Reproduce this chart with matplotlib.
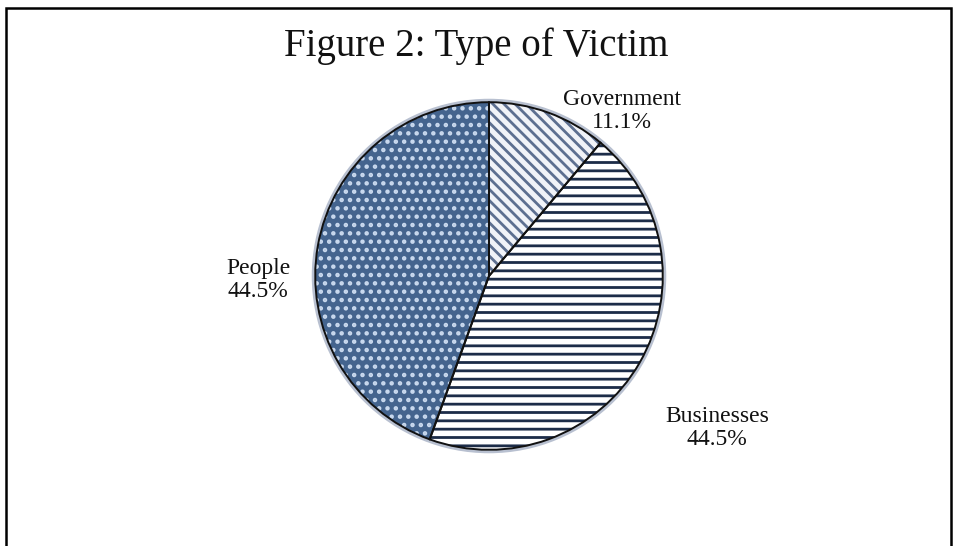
import matplotlib.pyplot as plt
from matplotlib.patches import Rectangle, Circle

categories = ["Government", "Businesses", "People"]
shares = [11.1, 44.5, 44.5]
pct_labels = ["11.1%", "44.5%", "44.5%"]

face_colors = ["#f1f3f8", "#ffffff", "#44648e"]
hatch_colors = ["#5d6f90", "#1c2c48", "#c9d9ee"]
hatches = ["\\\\\\", "--", ".."]

plt.rcParams['font.family'] = ['Liberation Serif', 'DejaVu Serif']
plt.rcParams['hatch.linewidth'] = 2.0

fig = plt.figure(figsize=(9.54, 5.46), dpi=100)

# outer frame, bottom runs off the picture
fig.patches.append(Rectangle((6 / 954, -0.05), 945 / 954, 1.05 - 8 / 546,
                             transform=fig.transFigure, fill=False,
                             edgecolor="black", linewidth=1.8))

ax = fig.add_axes([310 / 954, 91 / 546, 358 / 954, 358 / 546])

# soft halo round the pie
ax.add_patch(Circle((0, 0), 1.0, fill=False, edgecolor="#b8c0d0",
                    linewidth=5, zorder=0))

# hatched fills first
wedges, _ = ax.pie(shares, startangle=90, counterclock=False,
                   colors=face_colors, radius=1.0)
for w, h, hc in zip(wedges, hatches, hatch_colors):
    w.set_hatch(h)
    w.set_edgecolor(hc)
    w.set_linewidth(0)

# outlines on top
outline, _ = ax.pie(shares, startangle=90, counterclock=False, radius=1.0,
                    wedgeprops=dict(fill=False, edgecolor="#111111", linewidth=1.4))

ax.set_xlim(-1.03, 1.03)
ax.set_ylim(-1.03, 1.03)
ax.set_aspect("equal")

fig.text(476 / 954, 1 - 46 / 546, "Figure 2: Type of Victim", ha="center",
         va="center", fontsize=28, color="#111111")

label_pos = [(622, 111), (717, 428), (258, 280)]
for name, pct, (px, py) in zip(categories, pct_labels, label_pos):
    fig.text(px / 954, 1 - py / 546, f"{name}\n{pct}", ha="center", va="center",
             fontsize=17, linespacing=1.1, color="#111111")

fig.savefig("out.png", dpi=100)
